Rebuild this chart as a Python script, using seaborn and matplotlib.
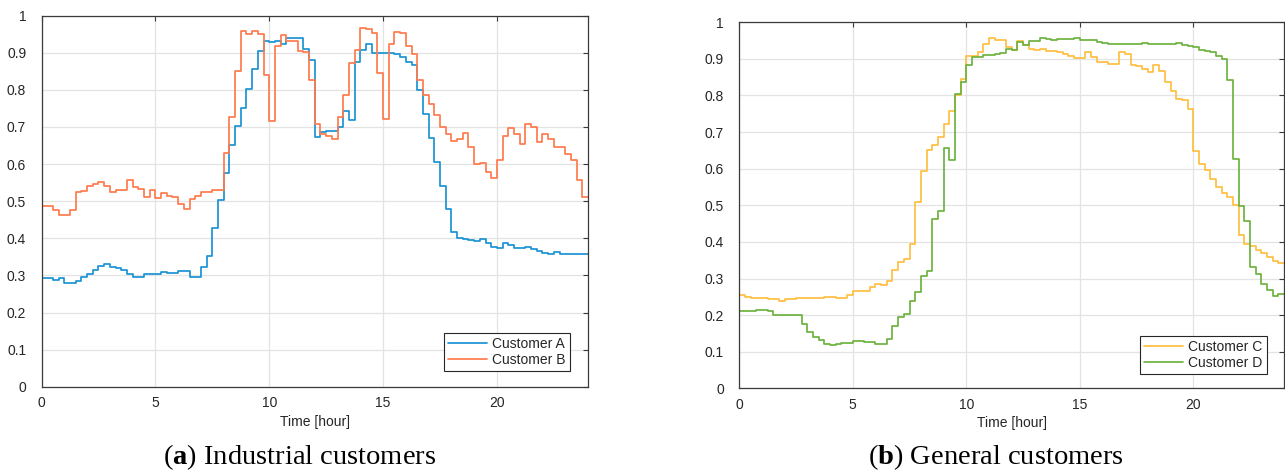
import numpy as np
import pandas as pd
import matplotlib
matplotlib.use("Agg")
import matplotlib.pyplot as plt
import seaborn as sns

# ---------------- data (15-min resolution, 96 values per day) ----------------
step_h = 0.25
customer_a = [0.293, 0.294, 0.288, 0.294, 0.279, 0.279, 0.284, 0.296,
              0.304, 0.315, 0.324, 0.330, 0.322, 0.321, 0.315, 0.304,
              0.296, 0.297, 0.304, 0.303, 0.305, 0.308, 0.307, 0.307,
              0.313, 0.313, 0.296, 0.295, 0.322, 0.351, 0.427, 0.502,
              0.577, 0.652, 0.702, 0.750, 0.803, 0.855, 0.906, 0.933,
              0.928, 0.931, 0.925, 0.940, 0.940, 0.940, 0.911, 0.881,
              0.674, 0.687, 0.688, 0.690, 0.701, 0.744, 0.719, 0.875,
              0.908, 0.923, 0.899, 0.899, 0.899, 0.899, 0.897, 0.890,
              0.875, 0.866, 0.799, 0.734, 0.671, 0.607, 0.542, 0.478,
              0.416, 0.401, 0.399, 0.396, 0.393, 0.398, 0.387, 0.376,
              0.374, 0.387, 0.382, 0.373, 0.373, 0.376, 0.370, 0.367,
              0.360, 0.357, 0.364, 0.358, 0.358, 0.358, 0.358, 0.358]
customer_b = [0.486, 0.488, 0.475, 0.463, 0.463, 0.477, 0.524, 0.527,
              0.542, 0.547, 0.552, 0.540, 0.525, 0.530, 0.531, 0.557,
              0.539, 0.534, 0.511, 0.530, 0.508, 0.521, 0.513, 0.512,
              0.492, 0.480, 0.506, 0.514, 0.525, 0.525, 0.531, 0.530,
              0.629, 0.728, 0.851, 0.960, 0.951, 0.958, 0.951, 0.841,
              0.717, 0.918, 0.947, 0.931, 0.931, 0.904, 0.901, 0.826,
              0.709, 0.681, 0.676, 0.669, 0.728, 0.787, 0.872, 0.908,
              0.967, 0.963, 0.953, 0.846, 0.722, 0.925, 0.955, 0.953,
              0.917, 0.897, 0.828, 0.785, 0.762, 0.732, 0.701, 0.681,
              0.662, 0.668, 0.683, 0.645, 0.601, 0.602, 0.580, 0.562,
              0.612, 0.676, 0.698, 0.681, 0.653, 0.708, 0.699, 0.660,
              0.680, 0.667, 0.647, 0.647, 0.628, 0.610, 0.558, 0.511]
customer_c = [0.254, 0.249, 0.248, 0.247, 0.247, 0.243, 0.243, 0.239,
              0.243, 0.243, 0.246, 0.248, 0.246, 0.248, 0.246, 0.249,
              0.249, 0.248, 0.247, 0.256, 0.266, 0.266, 0.266, 0.276,
              0.284, 0.282, 0.293, 0.324, 0.345, 0.353, 0.394, 0.508,
              0.595, 0.652, 0.666, 0.686, 0.722, 0.759, 0.801, 0.846,
              0.909, 0.909, 0.920, 0.941, 0.957, 0.953, 0.953, 0.932,
              0.925, 0.948, 0.939, 0.928, 0.925, 0.926, 0.922, 0.922,
              0.918, 0.914, 0.909, 0.902, 0.902, 0.918, 0.905, 0.891,
              0.891, 0.885, 0.885, 0.918, 0.914, 0.884, 0.880, 0.873,
              0.864, 0.882, 0.868, 0.837, 0.812, 0.790, 0.787, 0.763,
              0.647, 0.612, 0.597, 0.573, 0.550, 0.533, 0.524, 0.502,
              0.420, 0.395, 0.388, 0.379, 0.370, 0.360, 0.349, 0.342]
customer_d = [0.211, 0.212, 0.212, 0.213, 0.214, 0.211, 0.201, 0.200,
              0.199, 0.199, 0.199, 0.175, 0.155, 0.139, 0.132, 0.121,
              0.118, 0.122, 0.125, 0.125, 0.129, 0.128, 0.127, 0.126,
              0.121, 0.121, 0.136, 0.170, 0.195, 0.202, 0.238, 0.264,
              0.306, 0.320, 0.463, 0.485, 0.657, 0.623, 0.803, 0.837,
              0.884, 0.905, 0.905, 0.912, 0.912, 0.914, 0.916, 0.927,
              0.925, 0.946, 0.937, 0.948, 0.948, 0.957, 0.955, 0.951,
              0.954, 0.954, 0.955, 0.957, 0.952, 0.952, 0.951, 0.946,
              0.943, 0.940, 0.940, 0.941, 0.940, 0.940, 0.941, 0.944,
              0.941, 0.940, 0.940, 0.940, 0.940, 0.943, 0.939, 0.934,
              0.933, 0.925, 0.922, 0.918, 0.909, 0.900, 0.843, 0.627,
              0.498, 0.458, 0.331, 0.313, 0.286, 0.268, 0.252, 0.258]

x_ticks = [0, 5, 10, 15, 20]
y_ticks = [0, 0.1, 0.2, 0.3, 0.4, 0.5, 0.6, 0.7, 0.8, 0.9, 1]
y_tick_labels = ["0", "0.1", "0.2", "0.3", "0.4", "0.5", "0.6", "0.7", "0.8", "0.9", "1"]
x_label = "Time [hour]"
captions = [r"($\mathbf{a}$) Industrial customers", r"($\mathbf{b}$) General customers"]
panel_names = [["Customer A", "Customer B"], ["Customer C", "Customer D"]]
panel_values = [[customer_a, customer_b], [customer_c, customer_d]]
palettes = [["#1a93d4", "#ff7a4d"], ["#ffbf40", "#6db33f"]]

# ---------------- style ----------------
sns.set_style("white")
plt.rcParams["font.family"] = ["Liberation Sans", "DejaVu Sans"]
plt.rcParams["mathtext.fontset"] = "custom"
plt.rcParams["mathtext.rm"] = "Liberation Serif"
plt.rcParams["mathtext.bf"] = "Liberation Serif:bold"

fig = plt.figure(figsize=(12.85, 4.73), dpi=100)
W, H = 1285.0, 473.0
axes_px = [(41.5, 15.7, 588.0, 386.7), (739.3, 22.3, 1284.0, 388.3)]
legend_anchor = [(0.967, 0.042), (0.968, 0.039)]
caption_cx = [300.0, 996.0]

text_col = "#262626"

for k in range(2):
    l, t, r, b = axes_px[k]
    ax = fig.add_axes([l / W, (H - b) / H, (r - l) / W, (b - t) / H])
    frames = []
    for name, vals in zip(panel_names[k], panel_values[k]):
        hrs = np.arange(len(vals) + 1) * step_h
        frames.append(pd.DataFrame({"hour": hrs, "value": list(vals) + [vals[-1]], "customer": name}))
    df = pd.concat(frames, ignore_index=True)
    sns.lineplot(data=df, x="hour", y="value", hue="customer",
                 palette=palettes[k], drawstyle="steps-post", linewidth=1.25,
                 ax=ax, legend=True)
    ax.set_xlim(0, 24)
    ax.set_ylim(0, 1)
    ax.set_xticks(x_ticks)
    ax.set_xticklabels([str(v) for v in x_ticks])
    ax.set_yticks(y_ticks)
    ax.set_yticklabels(y_tick_labels)
    ax.grid(True, color="#e3e3e3", linewidth=0.9)
    ax.set_axisbelow(True)
    for s in ax.spines.values():
        s.set_color("#3a3a3a")
        s.set_linewidth(0.9)
        s.set_visible(True)
    ax.tick_params(direction="in", top=True, right=True, length=3.5, width=0.8,
                   color="#3a3a3a", labelsize=10, labelcolor=text_col)
    ax.tick_params(axis="y", pad=11)
    ax.tick_params(axis="x", pad=7)
    ax.set_xlabel(x_label, fontsize=10, color=text_col, labelpad=3)
    ax.set_ylabel("")
    leg = ax.legend(loc="lower right", fontsize=10, frameon=True, fancybox=False,
                    edgecolor="#262626", framealpha=1, handlelength=2.8,
                    borderpad=0.3, labelspacing=0.15, handletextpad=0.4,
                    borderaxespad=0.0, bbox_to_anchor=legend_anchor[k])
    leg.get_frame().set_linewidth(0.8)
    for txt in leg.get_texts():
        txt.set_color(text_col)
    fig.text(caption_cx[k] / W, (H - 457) / H, captions[k], ha="center", va="center",
             fontsize=20.5, family="Liberation Serif", color="black")

fig.savefig("out.png", dpi=100)
